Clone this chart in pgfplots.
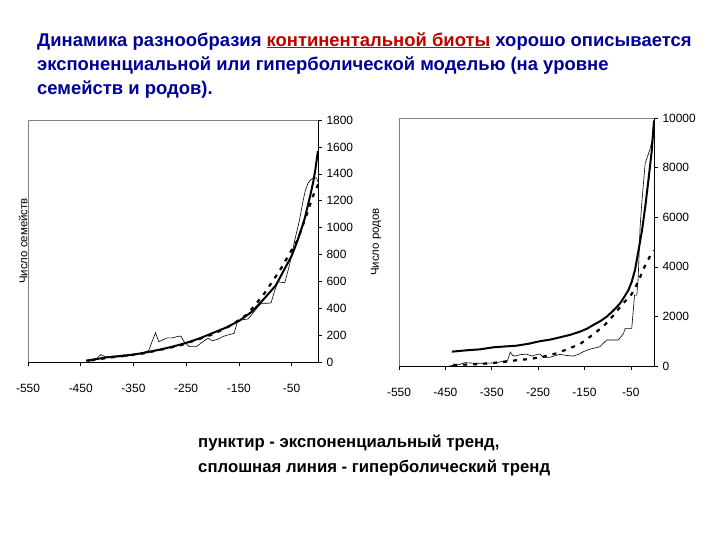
\documentclass[border=0pt]{standalone}
\usepackage{pgfplots}
\pgfplotsset{compat=1.18}
\usepackage{fontspec}
\setmainfont{Liberation Sans}

\definecolor{titleblue}{RGB}{0,0,153}
\definecolor{titlered}{RGB}{192,0,0}

\pgfplotsset{
  trend/.style={
    axis x line*=bottom,
    axis y line*=right,
    axis line style={-, black, line width=0.6bp},
    scale only axis,
    xmin=-550, xmax=0, ymin=0,
    xtick={-550,-450,-350,-250,-150,-50},
    xticklabels={-550,-450,-350,-250,-150,-50},
    scaled y ticks=false,
    tick align=outside,
    major tick length=4bp,
    tick style={black, line width=0.5bp},
    ticklabel style={font=\fontsize{12}{13}\selectfont},
    /pgf/number format/assume math mode=true,
    /pgf/number format/1000 sep={},
    xticklabel style={yshift=-15bp},
    yticklabel style={xshift=1bp},
    every axis y label/.style={rotate=90, anchor=center,
      font=\fontsize{11.5}{12}\selectfont},
  },
  data/.style={black, line width=0.6bp},
  hyper/.style={black, line width=2bp},
  expo/.style={black, line width=2.2bp, dash pattern=on 4bp off 6bp},
}

\begin{document}
\begin{tikzpicture}
\fill[white] (0,0) rectangle (720bp,-540bp);
\path[use as bounding box] (0,0) rectangle (720bp,-540bp);

% title
\node[anchor=base west, inner sep=0, text=titleblue,
  font=\fontsize{18.5}{22}\selectfont\bfseries] at (37bp,-46bp)
  {Динамика разнообразия \textcolor{titlered}{\underline{континентальной биоты}} хорошо описывается};
\node[anchor=base west, inner sep=0, text=titleblue,
  font=\fontsize{18.5}{22}\selectfont\bfseries] at (37bp,-70bp)
  {экспоненциальной или гиперболической моделью (на уровне};
\node[anchor=base west, inner sep=0, text=titleblue,
  font=\fontsize{18.5}{22}\selectfont\bfseries] at (37bp,-94bp)
  {семейств и родов).};

% families
\begin{axis}[trend,
  at={(28bp,-120bp)}, anchor=north west,
  width=290bp, height=242bp,
  ymax=1800, ytick={0,200,...,1800},
  ylabel={Число семейств},
  ylabel style={at={(axis description cs:-0.017,0.5)}},
]
\draw[gray, line width=0.6bp] (rel axis cs:0,0) -- (rel axis cs:0,1) -- (rel axis cs:1,1);
\addplot[data] coordinates {
  (-438,0) (-430,10) (-420,25) (-412,55) (-404,40) (-395,35) (-380,38)
  (-365,40) (-350,55) (-335,65) (-321,85) (-314,160) (-308,218) (-302,151)
  (-294,165) (-286,180) (-276,180) (-266,190) (-260,193) (-254,151)
  (-244,114) (-231,114) (-222,140) (-215,160) (-209,176) (-200,158)
  (-190,170) (-180,190) (-171,201) (-159,213) (-152,312) (-146,312)
  (-133,320) (-126,350) (-120,380) (-114,410) (-107,437) (-95,437)
  (-89,440) (-83,520) (-76,597) (-68,592) (-63,590) (-54,722) (-44,908)
  (-35,1057) (-28,1205) (-24,1275) (-19,1329) (-14,1355) (-9,1367)
  (-3,1370) (0,1340)
};
\addplot[expo] coordinates {
  (-430,12) (-400,30) (-370,45) (-334,62) (-300,90) (-261,124) (-230,165)
  (-200,205) (-166,270) (-134,355) (-118,430) (-101,514) (-84,613)
  (-69,703) (-54,807) (-39,905) (-31,993) (-21,1100) (-10,1230) (0,1320)
};
\addplot[hyper] coordinates {
  (-440,10) (-420,22) (-400,35) (-375,45) (-350,55) (-325,72) (-300,92)
  (-275,115) (-250,142) (-225,175) (-200,215) (-175,255) (-150,305)
  (-125,375) (-100,480) (-80,570) (-65,680) (-50,790) (-40,890)
  (-31,995) (-25,1070) (-19,1168) (-14,1250) (-9,1340) (-5,1430)
  (-3,1490) (0,1570)
};
\end{axis}

% genera
\begin{axis}[trend,
  at={(399bp,-118bp)}, anchor=north west,
  width=255bp, height=248bp,
  ymax=10000, ytick={0,2000,...,10000},
  ylabel={Число родов},
  ylabel style={at={(axis description cs:-0.09,0.5)}},
]
\draw[gray, line width=0.6bp] (rel axis cs:0,0) -- (rel axis cs:0,1) -- (rel axis cs:1,1);
\addplot[data] coordinates {
  (-442,0) (-430,30) (-420,60) (-408,135) (-395,120) (-375,108) (-350,120)
  (-335,150) (-325,200) (-316,220) (-310,560) (-305,430) (-300,400)
  (-288,460) (-275,480) (-263,400) (-252,470) (-246,480) (-239,350)
  (-225,350) (-212,420) (-203,470) (-190,430) (-174,400) (-163,470)
  (-152,580) (-138,680) (-124,740) (-117,780) (-102,1048) (-90,1048)
  (-77,1048) (-66,1300) (-62,1520) (-48,1520) (-44,2400) (-42,2860)
  (-37,2860) (-34,3600) (-30,5600) (-26,6650) (-19,8180) (-9,8720)
  (-2,9260) (0,9600)
};
\addplot[expo] coordinates {
  (-433,40) (-400,60) (-375,80) (-350,120) (-325,161) (-293,242)
  (-268,280) (-239,376) (-210,511) (-188,672) (-160,880) (-138,1180)
  (-109,1600) (-88,2030) (-70,2450) (-48,2900) (-34,3400) (-22,3940)
  (-8,4450) (0,4650)
};
\addplot[hyper] coordinates {
  (-436,578) (-400,640) (-375,672) (-347,753) (-320,790) (-296,820)
  (-270,900) (-246,1000) (-225,1060) (-203,1156) (-180,1260) (-160,1384)
  (-145,1500) (-131,1653) (-115,1820) (-102,1989) (-88,2230) (-73,2527)
  (-62,2850) (-55,3065) (-48,3400) (-41,3870) (-34,4600) (-26,5450)
  (-19,6400) (-12,7500) (-5,8650) (0,9900)
};
\end{axis}

% note
\node[anchor=base west, inner sep=0,
  font=\fontsize{16.8}{20}\selectfont\bfseries] at (198bp,-447bp)
  {пунктир - экспоненциальный тренд,};
\node[anchor=base west, inner sep=0,
  font=\fontsize{16.8}{20}\selectfont\bfseries] at (198bp,-472bp)
  {сплошная линия - гиперболический тренд};
\end{tikzpicture}
\end{document}
